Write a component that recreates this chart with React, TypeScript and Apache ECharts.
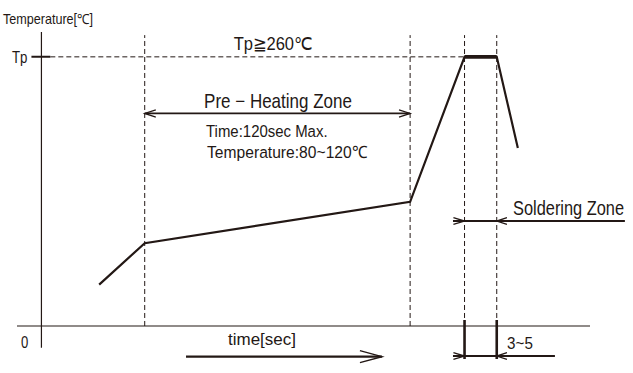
import React, { useEffect, useRef } from "react";
import * as echarts from "echarts";

const INK = "#231815";

// Reflow profile (time in sec, temperature in °C) – schematic values
const profileTimes = [26, 46.5, 166, 190.5, 205, 214.5];
const profileTemps = [40, 80, 120, 260, 260, 172];
const peakTimes = [190.5, 205];
const tpTemp = 260;
const zoneTimes = [46.5, 166, 190.5, 205]; // dashed boundaries
const zoneTop = 281;
const preHeatTemp = 205.3; // level of the Pre-Heating arrow
const solderTemp = 101.4; // level of the Soldering Zone arrow
const solderEnd = 262.7;
const bottomArrowTemp = -29; // level of the 3~5 arrow
const bottomArrowStart = 185.3;
const bottomArrowEnd = 231.2;
const timeArrowStart = 65.1;
const timeArrowEnd = 153.3;
const timeArrowTemp = -29.6;
const xAxisRange = [-11, 247];
const yAxisRange = [-21, 284];

type P = [number, number];

function seg(data: P[], width: number, dashed = false, z = 2) {
  return {
    type: "line",
    data,
    symbol: "none",
    silent: true,
    z,
    lineStyle: { color: INK, width, type: dashed ? [5, 3] : "solid", cap: "butt", join: "miter" },
  };
}

function head(tx: number, ty: number, dir: number, len: number, half: number): P[] {
  return [
    [tx - dir * len, ty + half],
    [tx, ty],
    [tx - dir * len, ty - half],
  ];
}

function txt(text: string, x: number, y: number, size: number, sx: number, align = "left") {
  return {
    type: "text",
    x,
    y,
    scaleX: sx,
    silent: true,
    style: {
      text,
      fill: INK,
      font: `${size}px 'Liberation Sans', Arial, sans-serif`,
      textAlign: align,
      textVerticalAlign: "middle",
    },
  };
}

export default function App() {
  const ref = useRef<HTMLDivElement>(null);
  useEffect(() => {
    if (!ref.current) return;
    const chart = echarts.init(ref.current, undefined, { renderer: "svg" });
    const profile: P[] = profileTimes.map((t, i) => [t, profileTemps[i]]);
    const series: any[] = [
      // axes
      seg([[xAxisRange[0], 0], [xAxisRange[1], 0]], 1.2),
      seg([[0, yAxisRange[0]], [0, yAxisRange[1]]], 1.2),
      // Tp tick and dashed level
      seg([[-4.5, tpTemp], [4, tpTemp]], 2),
      seg([[4, tpTemp], [peakTimes[0], tpTemp]], 1, true),
      // dashed zone boundaries
      ...zoneTimes.map((t) => seg([[t, 0], [t, zoneTop]], 1, true)),
      // profile
      seg(profile, 2.2, false, 5),
      seg(peakTimes.map((t) => [t, tpTemp] as P), 3.6, false, 6),
      // pre-heating arrow
      seg([[zoneTimes[0], preHeatTemp], [zoneTimes[1], preHeatTemp]], 1.8),
      seg(head(zoneTimes[0], preHeatTemp, -1, 5, 3.5), 1.3),
      seg(head(zoneTimes[1], preHeatTemp, 1, 5, 3.5), 1.3),
      // soldering zone arrow
      seg([[bottomArrowStart, solderTemp], [solderEnd, solderTemp]], 1.8),
      seg(head(peakTimes[0], solderTemp, 1, 5, 3.2), 1.3),
      seg(head(peakTimes[1], solderTemp, -1, 4.6, 3.2), 1.3),
      // solid bottom verticals
      seg([[peakTimes[0], 5.8], [peakTimes[0], -31.9]], 2.6),
      seg([[peakTimes[1], 5.8], [peakTimes[1], -31.9]], 2.6),
      // 3~5 arrow
      seg([[bottomArrowStart, bottomArrowTemp], [bottomArrowEnd, bottomArrowTemp]], 2),
      seg(head(peakTimes[0], bottomArrowTemp, 1, 5, 3.2), 1.3),
      seg(head(peakTimes[1], bottomArrowTemp, -1, 4.6, 3.2), 1.3),
      // time arrow
      seg([[timeArrowStart, timeArrowTemp], [timeArrowEnd, timeArrowTemp]], 2.4),
      seg(head(timeArrowEnd, timeArrowTemp, 1, 9.9, 5.8), 1.5),
    ];
    chart.setOption({
      animation: false,
      grid: { left: 17, right: 3, top: 32, bottom: 5.6 },
      xAxis: { type: "value", min: -11, max: 265, show: false },
      yAxis: { type: "value", min: -40, max: 284, show: false },
      series,
      graphic: [
        txt("Temperature[℃]", 3, 19, 14, 0.9),
        txt("Tp", 12, 57, 17, 0.78),
        txt("0", 21, 343, 16, 0.82),
        txt("Tp≧260℃", 273, 44, 18, 0.92, "center"),
        txt("Pre − Heating Zone", 278, 100.5, 20, 0.85, "center"),
        txt("Time:120sec Max.", 206, 131.5, 17, 0.88),
        txt("Temperature:80~120℃", 207, 151.5, 17, 0.92),
        txt("Soldering Zone", 513, 208, 20, 0.82),
        txt("time[sec]", 262, 339, 17, 1, "center"),
        txt("3~5", 520, 343, 16, 0.95, "center"),
      ],
    });
    return () => chart.dispose();
  }, []);
  return (
    <div
      ref={ref}
      style={{ position: "fixed", left: 0, top: 0, width: 633, height: 373, background: "#fff" }}
    />
  );
}
